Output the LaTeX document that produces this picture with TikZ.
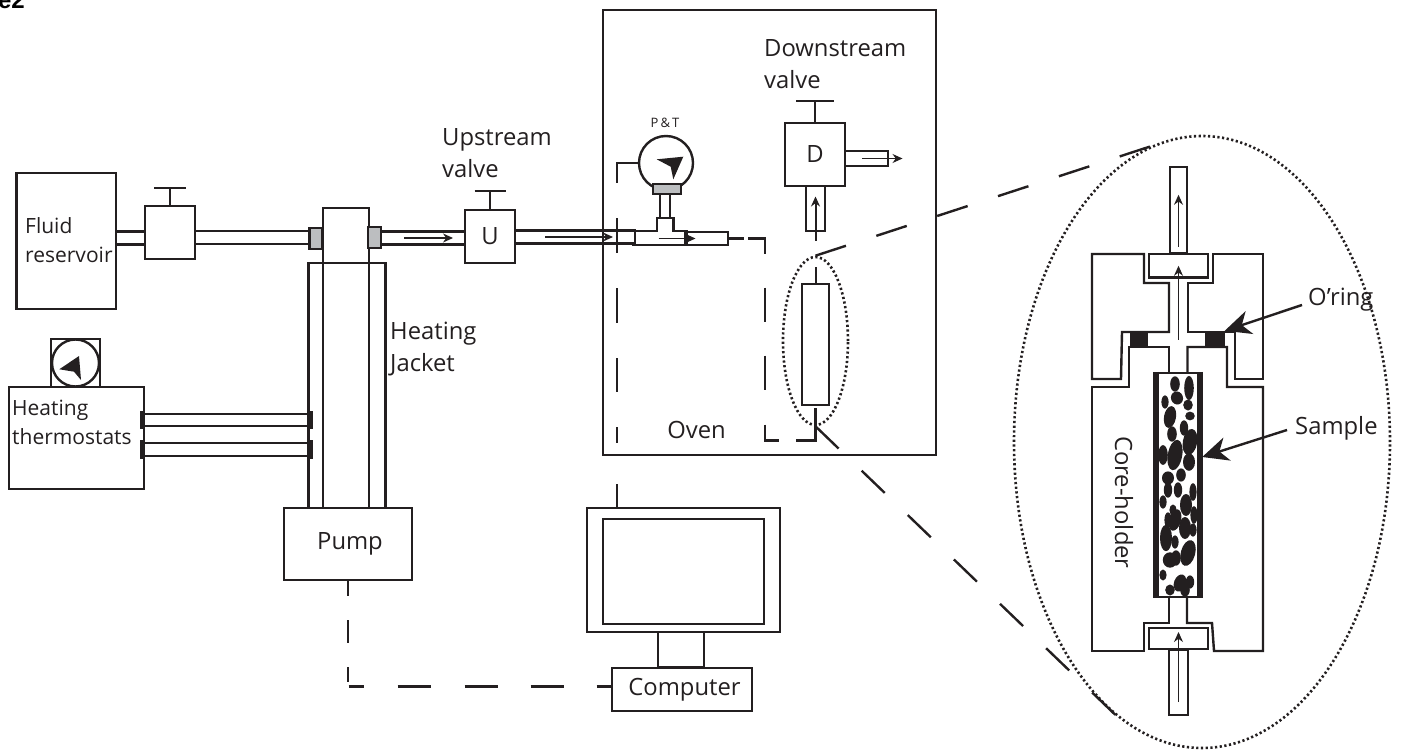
\documentclass[tikz,border=0pt]{standalone}
\usepackage{fontspec}
\setmainfont{Open Sans}
\newfontfamily\tagfont{Liberation Sans}
\usetikzlibrary{shapes.geometric,arrows.meta,positioning,calc}
\definecolor{inkblack}{RGB}{35,31,32}
\definecolor{collargray}{RGB}{188,190,192}

\begin{document}
\begin{tikzpicture}[
x=1pt, y=-1pt,
line/.style={draw=inkblack, line width=2.4pt},
box/.style={rectangle, draw=inkblack, line width=2.4pt, inner sep=0pt, text=inkblack, font=\fontsize{23.8}{28}\selectfont},
pipe/.style={box},
collar/.style={box, fill=collargray},
disc/.style={circle, draw=inkblack, line width=2.4pt, inner sep=0pt},
zone/.style={ellipse, draw=inkblack, line width=2.6pt, inner sep=0pt, dash pattern=on 2.2pt off 2.5pt},
label/.style={font=\fontsize{23.8}{32}\selectfont, text=inkblack, align=left, inner sep=0pt},
tightlabel/.style={font=\fontsize{21}{29}\selectfont, text=inkblack, align=left, inner sep=0pt},
flow/.style={draw=inkblack, line width=1.1pt, -{Stealth[length=10pt,width=9pt]}},
pointer/.style={draw=inkblack, line width=2.4pt, -{Stealth[length=26pt,width=24pt,inset=8pt]}},
signal/.style={draw=inkblack, line width=2.4pt},
needle/.style={fill=inkblack}
]
\useasboundingbox (0,0) rectangle (1414,754);

\node[font=\tagfont\bfseries\fontsize{24}{24}\selectfont, anchor=base east, inner sep=0pt, text=black] (tag) at (25,9) {e2};

% feed line
\node[box, minimum width=99.5pt, minimum height=136pt] (reservoir) at (66.25,241) {};
\node[tightlabel, anchor=west] (reservoirtxt) at (25,240) {Fluid\\reservoir};
\node[box, minimum width=50pt, minimum height=53pt] (valvea) at (170,232.5) {};
\node[pipe, minimum width=29pt, minimum height=13pt] (pipea) at (130.5,238) {};
\node[pipe, minimum width=115pt, minimum height=13pt] (pipeb) at (252.5,237.5) {};
\node[box, minimum width=77pt, minimum height=245pt] (jacket) at (347,385.5) {};
\node[box, minimum width=46pt, minimum height=300pt] (head) at (346,358) {};
\node[collar, minimum width=13pt, minimum height=21pt] (collara) at (316,238.5) {};
\node[collar, minimum width=13pt, minimum height=21pt] (collarb) at (374.5,237.5) {};
\node[box, minimum width=128pt, minimum height=72pt] (pump) at (348,544) {\hspace*{4pt}Pump};
\node[pipe, minimum width=84pt, minimum height=13pt] (pipec) at (423,238) {};
\node[box, minimum width=50pt, minimum height=53pt] (valveu) at (490,236.5) {U};
\node[pipe, minimum width=120pt, minimum height=13pt] (piped) at (575,237) {};
\node[label, anchor=west] (uptxt) at (442,153) {Upstream\\valve};
\node[label, anchor=west] (jackettxt) at (390,349) {Heating\\Jacket};

\draw[line] (valvea.north) -- ++(0,-17) ++(-16,0) -- ++(32,0);
\draw[line] (valveu.north) -- ++(0,-18) ++(-15.5,0) -- ++(31,0);
\draw[flow] ([xshift=-19pt]pipec.center) -- ([xshift=30pt]pipec.center);
\draw[flow] ([xshift=-30pt]piped.center) -- ([xshift=38pt]piped.center);

% thermostats
\node[box, minimum width=135pt, minimum height=102pt] (thermo) at (76.5,438) {};
\node[tightlabel, anchor=west] (thermotxt) at (12,422.5) {Heating\\thermostats};
\node[box, minimum width=49pt, minimum height=48pt] (dialbox) at (75.5,363) {};
\node[disc, minimum size=47pt] (dial) at (75.5,363) {};
\fill[needle] (59.3,369.3) -- (79,356) -- (81,380) -- (74,371.7) -- cycle;
\node[pipe, minimum width=167pt, minimum height=12pt] (heata) at (226.5,420) {};
\node[pipe, minimum width=167pt, minimum height=13pt] (heatb) at (226.5,449.5) {};
\foreach \p in {heata,heatb} {
  \draw[line, line width=3.6pt] ([yshift=1.5pt]\p.north west) -- ([yshift=-1.5pt]\p.south west);
  \draw[line, line width=3.6pt] ([yshift=1.5pt]\p.north east) -- ([yshift=-1.5pt]\p.south east);
}

% oven
\node[box, line width=2.6pt, minimum width=333pt, minimum height=445pt] (oven) at (769.5,232.5) {};
\node[label, anchor=center] (oventxt) at (696.5,430) {Oven};
\node[disc, minimum size=54pt] (gauge) at (666,163) {};
\fill[needle] (656.7,159.3) -- (683.3,156.7) -- (673.3,179.3) -- (670.7,166.7) -- cycle;
\node[font=\fontsize{13}{13}\selectfont, text=inkblack, inner sep=0pt] (gaugetxt) at (665,123) {P\,\&\,T};
\node[collar, minimum width=28pt, minimum height=10pt] (gaugebase) at (667,189) {};
\node[box, minimum width=10pt, minimum height=24pt] (gaugestem) at (665,206) {};
\draw[line] (632,245) -- (687,245) -- (687,231) -- (673.5,231) -- (673.5,218) -- (657,218) -- (657,231) -- (635,231) -- (635,245);
\node[pipe, minimum width=43pt, minimum height=13pt] (pipee) at (706.5,238.5) {};
\draw[flow] ([xshift=-48pt]pipee.center) -- ([xshift=-11pt]pipee.center);

\node[box, minimum width=60pt, minimum height=63pt] (valved) at (815,154.5) {D};
\draw[line] (valved.north) -- ++(0,-21) ++(-19,0) -- ++(38,0);
\node[label, anchor=west] (downtxt) at (764,64) {Downstream\\valve};
\node[pipe, minimum width=43pt, minimum height=15pt] (dout) at (866.5,158.5) {};
\node[pipe, minimum width=19pt, minimum height=45pt] (dpipe) at (815.5,208.5) {};
\draw[flow] ([xshift=-4.5pt]dout.center) -- ([xshift=36pt]dout.center);

\node[box, minimum width=27pt, minimum height=121pt] (smallcore) at (815.5,344.5) {};
\node[zone, minimum width=65pt, minimum height=168pt] (smallzone) at (815.5,341) {};
\draw[flow, line width=2pt, dash pattern=on 16pt off 26pt on 44pt] (smallcore.north) -- ([yshift=12pt]dpipe.center);

% signal lines
\draw[signal, dash pattern=on 41pt off 35pt on 35pt off 35pt on 35pt off 35pt on 34pt off 35pt on 16pt] (gauge.west) -| (617,507.7);
\draw[signal, dash pattern=on 15pt off 4pt on 32pt off 34pt on 34pt off 34pt on 34pt off 35pt on 30pt off 17pt on 52pt] (pipee.east) -| (765,440.5) -| (smallcore.south);
\coordinate (pumpcorner) at (pump.south |- 686,686.5);
\node[box, minimum width=193pt, minimum height=124pt] (monitor) at (683.5,570) {};
\node[box, minimum width=161pt, minimum height=105pt] (screen) at (683.5,571.5) {};
\node[box, minimum width=46pt, minimum height=35pt] (stand) at (681,649.5) {};
\node[box, minimum width=140pt, minimum height=43pt] (computer) at (682,689.5) {\hspace*{5pt}Computer};
\draw[signal, dash pattern=on 15pt off 24pt on 23pt off 24pt on 15pt off 5pt on 15pt off 34pt on 33pt off 34pt on 33pt off 33pt on 33pt off 33pt on 15pt] (pump.south) -- (pumpcorner) -- (computer.west |- pumpcorner);

% enlarged holder
\node[zone, minimum width=376pt, minimum height=612pt] (bigzone) at (1202,442) {};
\draw[signal, dash pattern=on 32pt off 32pt] (smallzone.north) -- (bigzone.100);
\draw[signal, dash pattern=on 32pt off 32pt] (smallzone.south) -- (bigzone.253);

\draw[line] (1092,379) -- (1092,254) -- (1144,254) -- (1144,283) -- (1169,283) -- (1169,332) -- (1122,332) -- (1121,379) -- cycle;
\draw[line] (1263,379) -- (1263,254) -- (1213,254) -- (1213,283) -- (1188,283) -- (1188,332) -- (1235,332) -- (1235,379) -- cycle;
\draw[line] (1169,373) -- (1169,347) -- (1129,347) -- (1129,387) -- (1092,387) -- (1092,651) -- (1144,651) -- (1144,623) -- (1169,623) -- (1169,597);
\draw[line] (1187.5,373) -- (1187.5,347) -- (1227,347) -- (1227,387) -- (1263,387) -- (1263,651) -- (1214,651) -- (1212,623) -- (1187,623) -- (1187,597);
\node[box, minimum width=17pt, minimum height=86pt, anchor=south] (tubetop) at (1178.5,254) {};
\node[box, minimum width=58.5pt, minimum height=23pt] (captop) at (1178.5,265.8) {};
\node[box, minimum width=59pt, minimum height=21pt] (capbot) at (1178.5,638.5) {};
\node[box, minimum width=19pt, minimum height=65pt] (tubebot) at (1178.5,682.5) {};
\node[box, fill=inkblack, minimum width=16.5pt, minimum height=15pt] (ringa) at (1139,339.5) {};
\node[box, fill=inkblack, minimum width=17pt, minimum height=15pt] (ringb) at (1215,339.5) {};
\draw[flow] (tubetop.center) ++(0,37) -- ++(0,-52);
\draw[flow] (ringa.center -| tubetop.center) -- (captop.center);
\draw[flow] (tubebot.center) ++(0,19.5) -- ++(0,-70);

\node[box, minimum width=46pt, minimum height=224pt] (core) at (1178,485) {};
\foreach \cx/\cy/\rx/\ry/\rot in {
1175/384/4/7/0, 1189/388/4/11/0, 1177/398/5/6/20, 1165/402/3/6/0, 1188/405/4/5/0,
1170/417/5/10/-10, 1190/416/4/4/0, 1184/428/3.5/7/0, 1172/434/4/7/0, 1190/442/6/12/-10,
1175/455/6/14/-10, 1163/455/4/9/0, 1189/462/5/8/0, 1181/475/4/6/0, 1168/478/5/6/0,
1168/490/3.5/7/0, 1178/490/3.5/7/0, 1193/492/3/8/0, 1186/505/5/10/0, 1163/502/3/6/0,
1173/510/3/5/0, 1168/520/3/7/0, 1175/520/5/10/-15, 1194/515/3/8/0, 1185/528/5/10/0,
1193/530/3/6/0, 1166/538/5/12/0, 1175/542/3/6/0, 1188/553/6/12/-15, 1170/560/6/7/0,
1176/558/4/7/0, 1163/575/3/5/0, 1180/583/5/8/-20, 1190/582/3.5/6/0, 1170/590/4/5/0,
1185/590/4/6/0}
  \fill[needle, rotate around={\rot:(\cx,\cy)}] (\cx,\cy) ellipse [x radius=1.2*\rx, y radius=1.1*\ry];
\draw[line, line width=6pt] ([xshift=2pt]core.north west) -- ([xshift=2pt]core.south west);
\draw[line, line width=6pt] ([xshift=-2pt]core.north east) -- ([xshift=-2pt]core.south east);

\node[label, anchor=west] (ringtxt) at (1308,300) {O'ring};
\node[label, anchor=west] (coretxt) at (1295,428) {Sample};
\node[label, rotate=-90] (holdertxt) at (1124,502.5) {Core-holder};
\draw[pointer] (ringtxt.west) ++(-6,5) -- (ringb.north east);
\draw[pointer] (coretxt.west) ++(-8,2) -- (core.east |- 0,457);
\end{tikzpicture}
\end{document}
